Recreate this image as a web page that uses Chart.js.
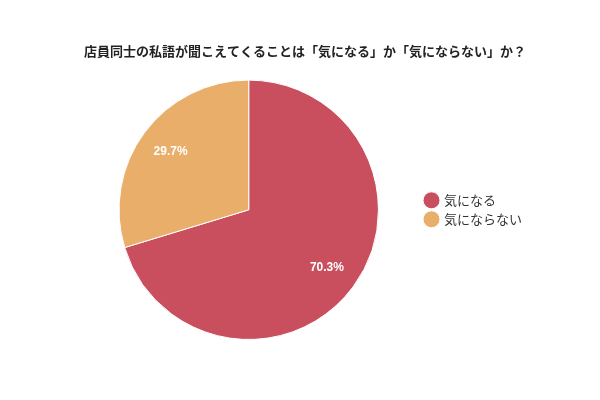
<!DOCTYPE html>
<html lang="ja">
<head>
<meta charset="UTF-8">
<title>店員同士の私語</title>
<script src="https://cdn.jsdelivr.net/npm/chart.js"></script>
<style>
    html, body { margin: 0; padding: 0; background: #fff; }
    #wrap { width: 600px; height: 400px; position: relative; }
</style>
</head>
<body>
<div id="wrap"><canvas id="chart"></canvas></div>
<script>
    // データ
    const labels = ['気になる', '気にならない'];
    const values = [70.3, 29.7];
    const colors = ['#c94f5e', '#e8ae6a'];
    const titleText = '店員同士の私語が聞こえてくることは「気になる」か「気にならない」か？';

    // スライス内にパーセント表示
    const pctLabels = {
        id: 'pctLabels',
        afterDatasetsDraw(chart) {
            const ctx = chart.ctx;
            const meta = chart.getDatasetMeta(0);
            ctx.save();
            ctx.fillStyle = '#fff';
            ctx.font = 'bold 12px "Liberation Sans", Arial, sans-serif';
            ctx.textAlign = 'center';
            ctx.textBaseline = 'middle';
            meta.data.forEach((arc, i) => {
                const p = arc.getProps(['x', 'y', 'startAngle', 'endAngle', 'outerRadius']);
                const mid = (p.startAngle + p.endAngle) / 2;
                const r = p.outerRadius * 0.75;
                ctx.fillText(values[i].toFixed(1) + '%', p.x + Math.cos(mid) * r, p.y + Math.sin(mid) * r);
            });
            ctx.restore();
        }
    };

    new Chart(document.getElementById('chart'), {
        type: 'pie',
        data: {
            labels: labels,
            datasets: [{
                data: values,
                backgroundColor: colors,
                borderColor: '#ffffff',
                borderWidth: 1
            }]
        },
        options: {
            responsive: true,
            maintainAspectRatio: false,
            animation: false,
            layout: { padding: { left: 78, right: 68, top: 33, bottom: 60 } },
            plugins: {
                title: {
                    display: true,
                    text: titleText,
                    color: '#222',
                    font: { family: '"Noto Sans CJK JP", sans-serif', size: 13, weight: 'bold' },
                    padding: { top: 10, bottom: 21 }
                },
                legend: {
                    position: 'right',
                    fullSize: false,
                    labels: {
                        usePointStyle: true,
                        pointStyle: 'circle',
                        boxWidth: 12,
                        boxHeight: 12,
                        padding: 6,
                        color: '#333',
                        font: { family: '"Noto Sans CJK JP", sans-serif', size: 13 }
                    }
                },
                tooltip: { enabled: false }
            }
        },
        plugins: [pctLabels]
    });
</script>
</body>
</html>
